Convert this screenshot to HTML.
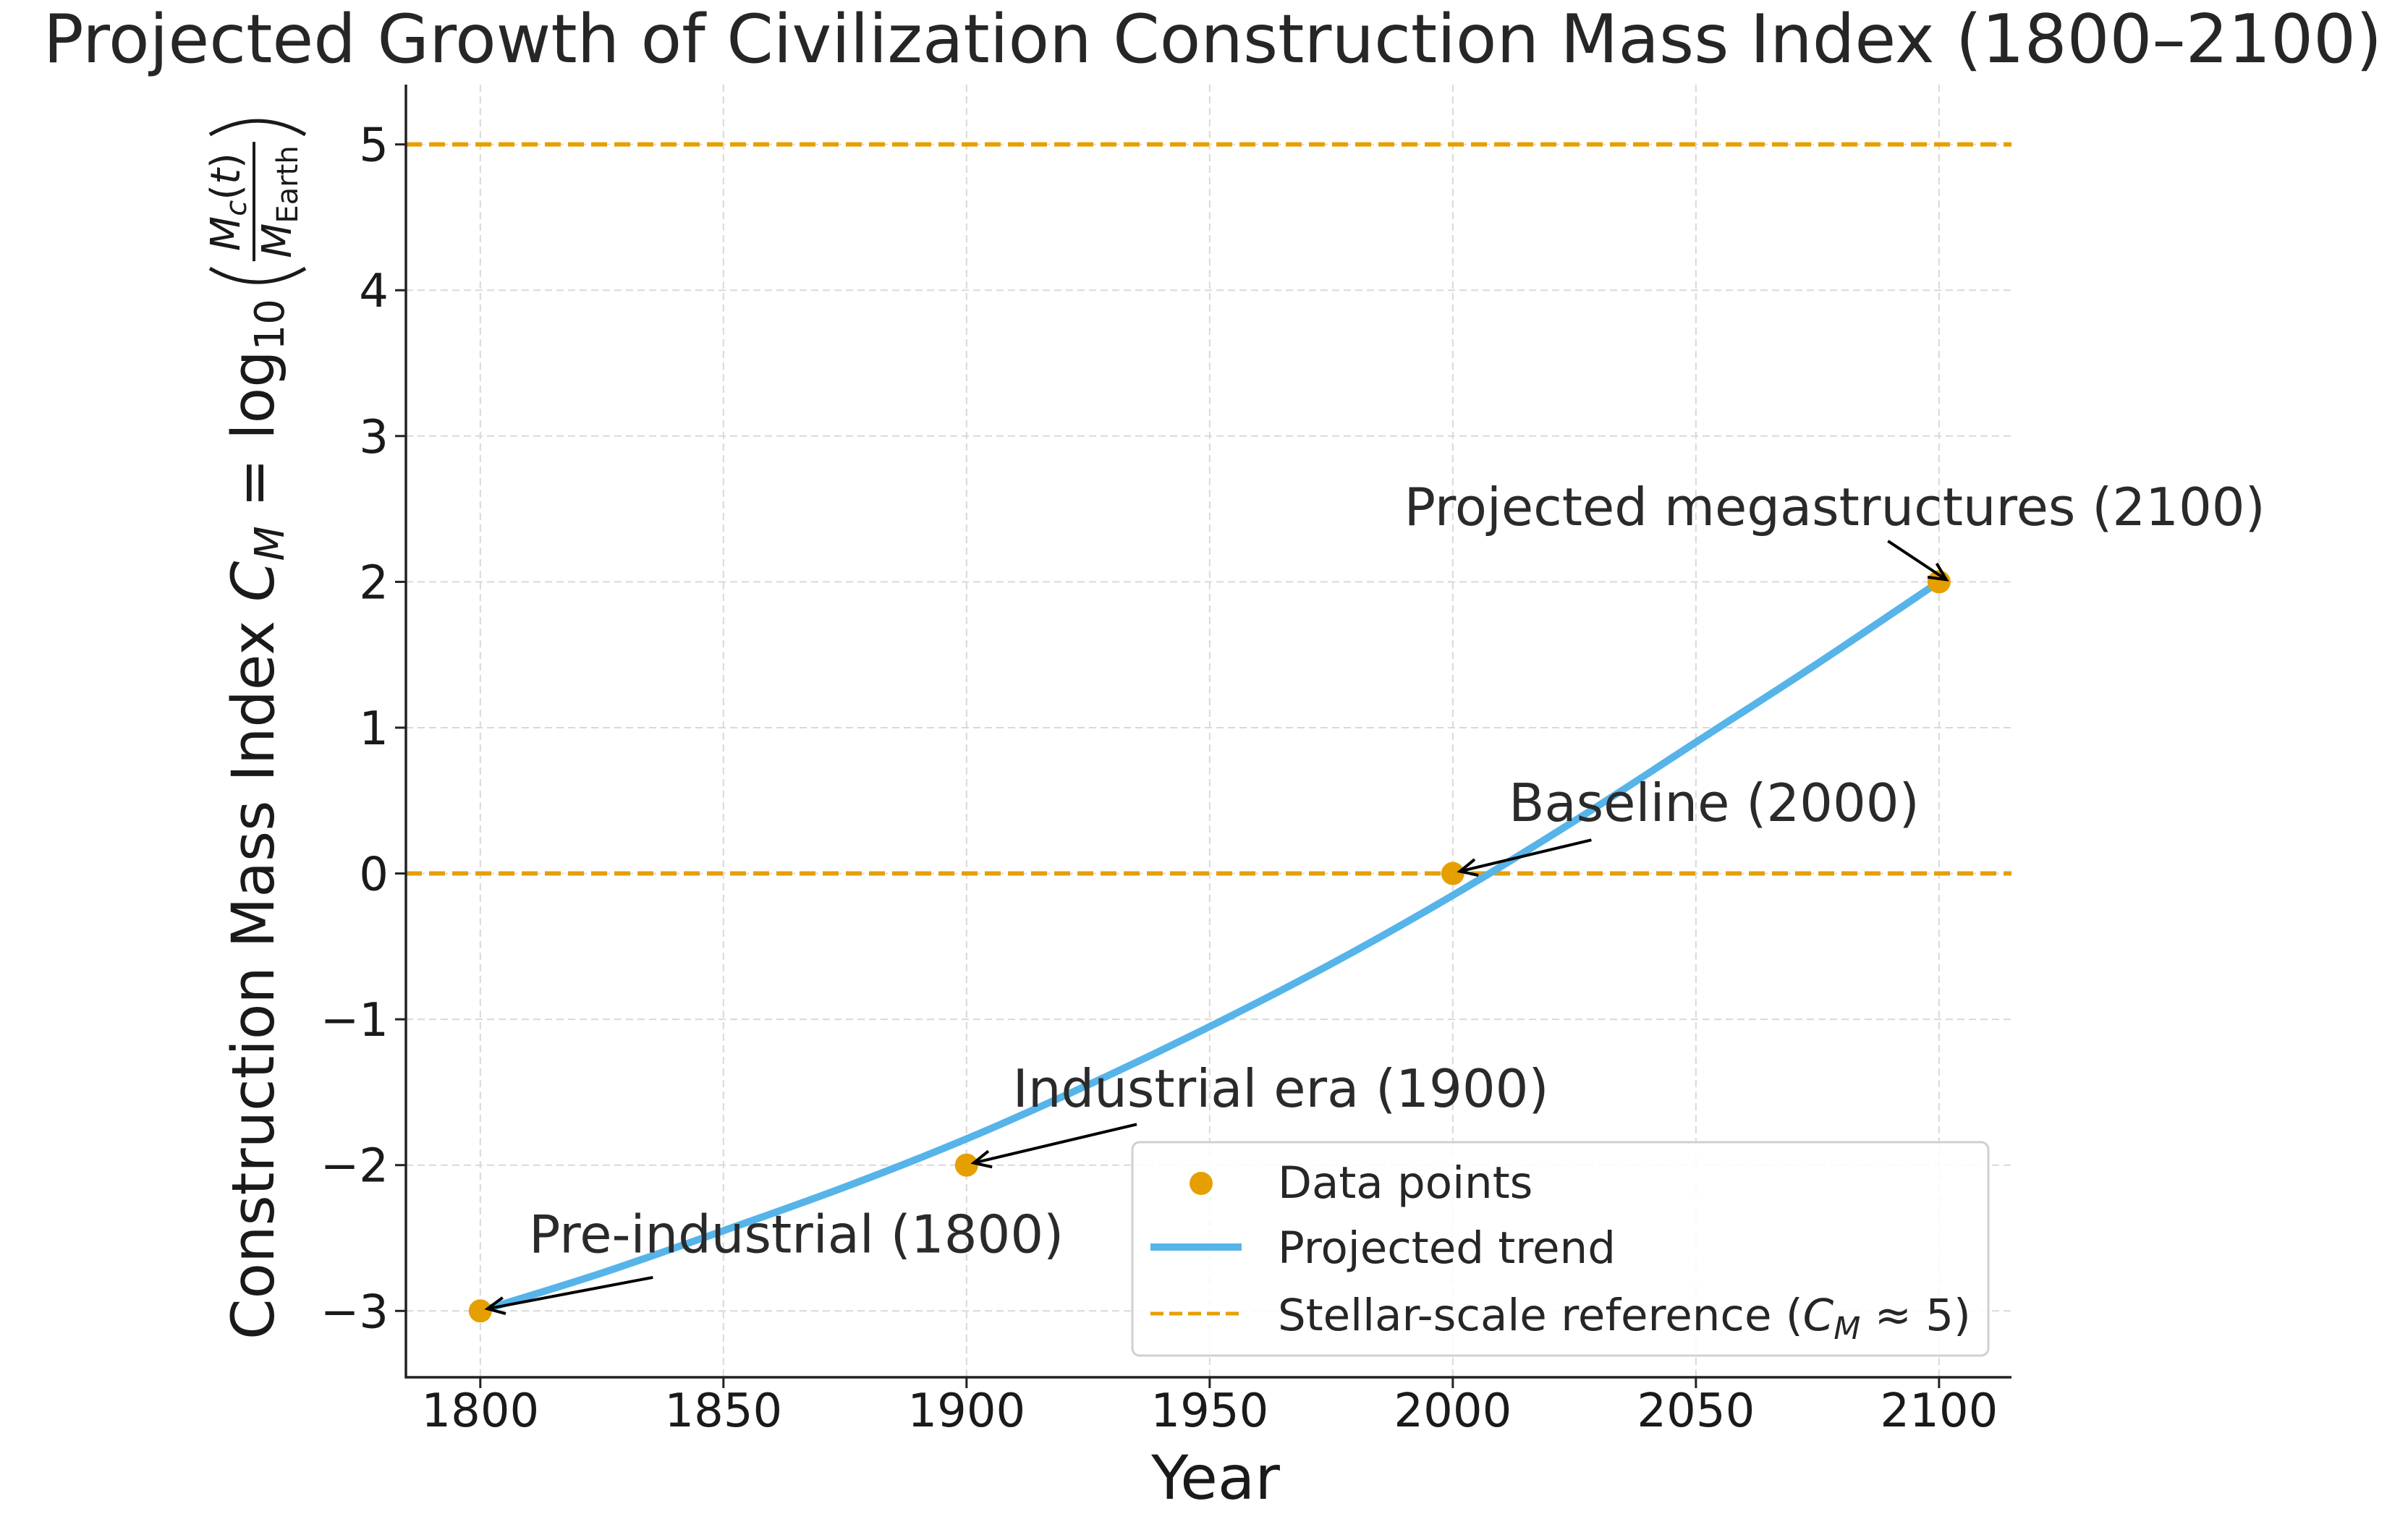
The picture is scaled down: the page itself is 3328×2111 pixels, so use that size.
<!DOCTYPE html>
<html><head><meta charset="utf-8">
<style>
html,body{margin:0;padding:0;background:#fff;}
svg{display:block;font-family:"DejaVu Sans","Liberation Sans",sans-serif;}
</style></head>
<body>
<svg id="chart" width="3328" height="2111" viewBox="0 0 3328 2111" xmlns="http://www.w3.org/2000/svg">
<rect width="3328" height="2111" fill="#fff"/>
<text x="1676" y="86" font-size="92.5" text-anchor="middle" fill="#262626">Projected Growth of Civilization Construction Mass Index (1800–2100)</text>
<g id="grid"></g>
<g id="refs"></g>
<g id="series"></g>
<g id="axes"></g>
<g id="annots"></g>
<g id="legend"></g>
<text x="1680" y="2072" font-size="84" text-anchor="middle" fill="#1a1a1a">Year</text>
<g id="ylabel" transform="translate(378,1852) rotate(-90)"></g>
</svg>
<script>
const xTicks = [1800, 1850, 1900, 1950, 2000, 2050, 2100];
const yTicks = [-3, -2, -1, 0, 1, 2, 3, 4, 5];
const pointYears = [1800, 1900, 2000, 2100];
const pointValues = [-3, -2, 0, 2];
const trendYears = [1800, 1825, 1850, 1875, 1900, 1925, 1950, 1975, 2000, 2025, 2050, 2075, 2100];
const trendValues = [-3, -2.74, -2.45, -2.15, -1.82, -1.45, -1.05, -0.62, -0.15, 0.36, 0.9, 1.44, 2.0];
const refValues = [5, 0];
const annotLabels = ["Pre-industrial (1800)", "Industrial era (1900)", "Baseline (2000)", "Projected megastructures (2100)"];
const annotTextYear = [1810, 1909.5, 2011.5, 1990];
const annotTextValue = [-2.6, -1.6, 0.36, 2.39];
const annotArrowFromYear = [1835.5, 1935, 2028.5, 2089.5];
const annotArrowFromValue = [-2.77, -1.72, 0.23, 2.28];

const L=561, R=2780, T=117, B=1904;
const X0=1784.7, X1=2114.9, Y0=-3.455, Y1=5.41;
const sx = v => L + (v - X0) / (X1 - X0) * (R - L);
const sy = v => B - (v - Y0) / (Y1 - Y0) * (B - T);
const NS="http://www.w3.org/2000/svg";
function mk(tag, attrs, parent){const e=document.createElementNS(NS,tag);for(const k in attrs)e.setAttribute(k,attrs[k]);parent.appendChild(e);return e;}
const grid=document.getElementById('grid'), axes=document.getElementById('axes');
xTicks.forEach(t=>{
  const g=mk('line',{x1:sx(t),x2:sx(t),y1:T,y2:B,stroke:'#d9d9d9','stroke-width':2,'stroke-dasharray':'10 6'},grid);
  
  
  const tk=mk('line',{x1:sx(t),x2:sx(t),y1:B,y2:B+15,stroke:'#222','stroke-width':3},axes);
  
  
  const lb=mk('text',{x:sx(t),y:1972,'font-size':64,'text-anchor':'middle',fill:'#1a1a1a'},axes);
  lb.textContent=t;
  
  
});
yTicks.forEach(t=>{
  const g=mk('line',{x1:L,x2:R,y1:sy(t),y2:sy(t),stroke:'#d9d9d9','stroke-width':2,'stroke-dasharray':'10 6'},grid);
  
  
  const tk=mk('line',{x1:L-15,x2:L,y1:sy(t),y2:sy(t),stroke:'#222','stroke-width':3},axes);
  
  
  const lb=mk('text',{x:537,y:sy(t)+23,'font-size':64,'text-anchor':'end',fill:'#1a1a1a'},axes);
  lb.textContent=t<0?'\u2212'+Math.abs(t):String(t);
  
  
});
const sp1=mk('line',{x1:L,x2:L,y1:T,y2:B+1.5,stroke:'#222','stroke-width':3.5},axes);


const sp2=mk('line',{x1:L-1.5,x2:R,y1:B,y2:B,stroke:'#222','stroke-width':3.5},axes);



const refs=document.getElementById('refs');
refValues.forEach(v=>{
  const l=mk('line',{x1:L,x2:R,y1:sy(v),y2:sy(v),stroke:'#E69F00','stroke-width':6,'stroke-dasharray':'22 10'},refs);
  
  
});

const series=document.getElementById('series');
const P=trendYears.map((y,i)=>[sx(y),sy(trendValues[i])]);
let d='M'+P[0][0]+','+P[0][1];
for(let i=0;i<P.length-1;i++){
  const p0=P[Math.max(i-1,0)],p1=P[i],p2=P[i+1],p3=P[Math.min(i+2,P.length-1)];
  d+=' C'+(p1[0]+(p2[0]-p0[0])/6)+','+(p1[1]+(p2[1]-p0[1])/6)+' '+(p2[0]-(p3[0]-p1[0])/6)+','+(p2[1]-(p3[1]-p1[1])/6)+' '+p2[0]+','+p2[1];
}
const tr=mk('path',{d:d,fill:'none',stroke:'#56B4E9','stroke-width':10,'stroke-linecap':'butt'},series);


pointYears.forEach((y,i)=>{
  const c=mk('circle',{cx:sx(y),cy:sy(pointValues[i]),r:16,fill:'#E69F00'},series);
  
  
});

const an=document.getElementById('annots');
annotLabels.forEach((s,i)=>{
  const t=mk('text',{x:sx(annotTextYear[i]),y:sy(annotTextValue[i]),'font-size':72,fill:'#2a2a2a'},an);
  t.textContent=s;
  
  
  const x1=sx(annotArrowFromYear[i]),y1=sy(annotArrowFromValue[i]);
  const x2=sx(pointYears[i])+10,y2=sy(pointValues[i])-3;
  const ang=Math.atan2(y2-y1,x2-x1);
  const ln=mk('line',{x1:x1,y1:y1,x2:x2,y2:y2,stroke:'#000','stroke-width':4},an);
  
  
  const h=26,w=0.45;
  const hd=mk('path',{d:'M'+(x2-h*Math.cos(ang-w))+','+(y2-h*Math.sin(ang-w))+' L'+x2+','+y2+' L'+(x2-h*Math.cos(ang+w))+','+(y2-h*Math.sin(ang+w)),fill:'none',stroke:'#000','stroke-width':4},an);
  
  
});

const lg=document.getElementById('legend');
const box=mk('rect',{x:1565,y:1579,width:1183,height:295,rx:10,fill:'#fff','fill-opacity':0.85,stroke:'#d0d0d0','stroke-width':3},lg);


const e1=mk('circle',{cx:1660,cy:1636,r:16,fill:'#E69F00'},lg);


const e2=mk('line',{x1:1590,x2:1716,y1:1724,y2:1724,stroke:'#56B4E9','stroke-width':10},lg);


const e3=mk('line',{x1:1590,x2:1716,y1:1816,y2:1816,stroke:'#E69F00','stroke-width':5,'stroke-dasharray':'18 8'},lg);


const lt=[['Data points',1656],['Projected trend',1746],['',1839]];
lt.forEach((a,i)=>{
  const t=mk('text',{x:1766,y:a[1],'font-size':61,fill:'#262626'},lg);
  if(i<2)t.textContent=a[0];
  else t.innerHTML='Stellar-scale reference (<tspan font-style="italic">C</tspan><tspan font-style="italic" font-size="43" dy="12">M</tspan><tspan dy="-12"> ≈ 5)</tspan>';
  
  
});

// y-axis title
const yl=document.getElementById('ylabel');
const ytxt=mk('text',{x:0,y:0,'font-size':81,fill:'#1a1a1a'},yl);
ytxt.innerHTML='Construction Mass Index <tspan font-style="italic">C</tspan><tspan font-style="italic" font-size="56" dy="14">M</tspan><tspan dy="-14"> = log</tspan><tspan font-size="56" dy="14">10</tspan>';


let len=ytxt.getComputedTextLength();
const fx=len+12;
const pl=mk('path',{d:'M'+(fx+30)+',-88 Q'+(fx-8)+',-22 '+(fx+30)+',44',fill:'none',stroke:'#1a1a1a','stroke-width':5},yl);


const num=mk('text',{x:fx+122,y:-47,'font-size':56,'text-anchor':'middle',fill:'#1a1a1a'},yl);
num.innerHTML='<tspan font-style="italic">M</tspan><tspan font-style="italic" font-size="40" dy="9">c</tspan><tspan dy="-9">(</tspan><tspan font-style="italic">t</tspan>)';


const fl=mk('line',{x1:fx+40,x2:fx+205,y1:-27,y2:-27,stroke:'#1a1a1a','stroke-width':4},yl);


const den=mk('text',{x:fx+122,y:24,'font-size':56,'text-anchor':'middle',fill:'#1a1a1a'},yl);
den.innerHTML='<tspan font-style="italic">M</tspan><tspan font-size="40" dy="9">Earth</tspan>';


const pr=mk('path',{d:'M'+(fx+215)+',-88 Q'+(fx+253)+',-22 '+(fx+215)+',44',fill:'none',stroke:'#1a1a1a','stroke-width':5},yl);


</script>
</body></html>
